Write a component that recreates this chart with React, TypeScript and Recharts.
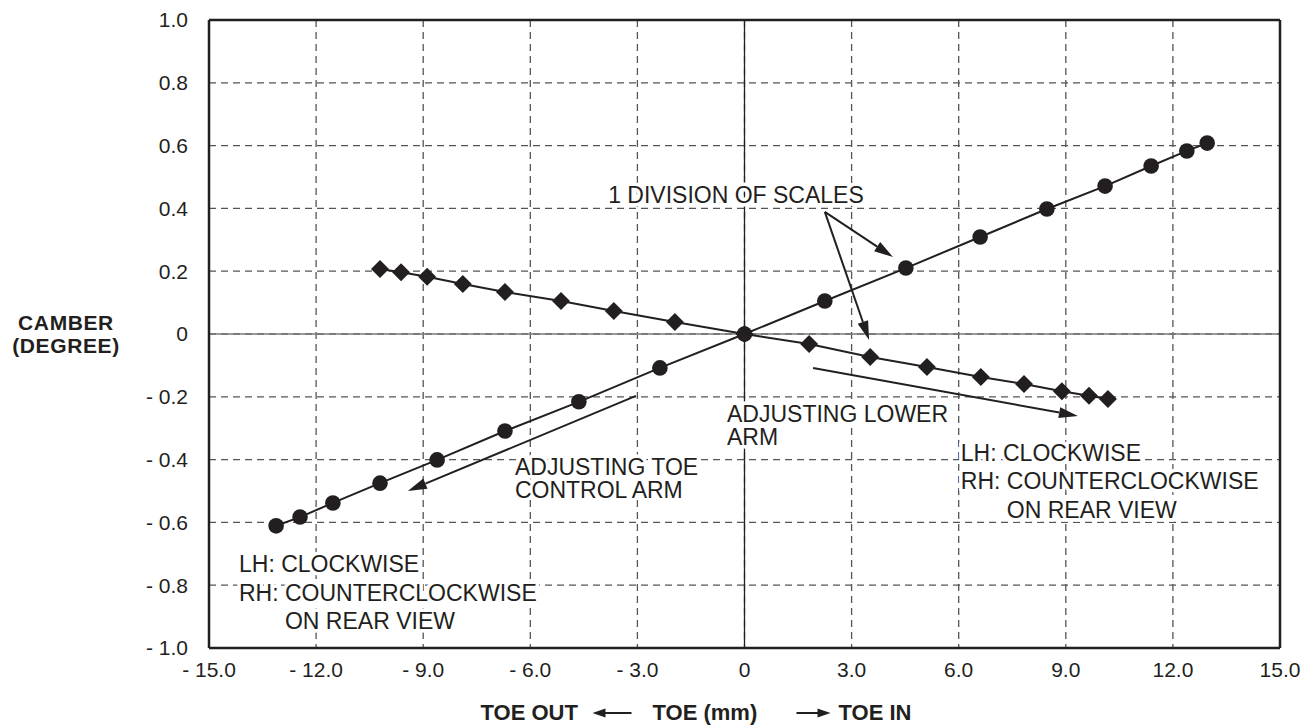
import React from 'react';
import {
  ComposedChart, Scatter, XAxis, YAxis, CartesianGrid, ReferenceLine, ReferenceDot,
} from 'recharts';

// toe control arm adjustment (circles)
const CIRCLE_X = [-13.12, -12.45, -11.53, -10.21, -8.61, -6.71, -4.64, -2.37, 0, 2.25, 4.52, 6.6, 8.47, 10.1, 11.39, 12.39, 12.96];
const CIRCLE_Y = [-0.611, -0.583, -0.538, -0.475, -0.401, -0.309, -0.216, -0.108, 0, 0.105, 0.21, 0.309, 0.398, 0.471, 0.535, 0.583, 0.608];

// lower arm adjustment (diamonds)
const DIAMOND_X = [-10.21, -9.62, -8.89, -7.89, -6.71, -5.14, -3.66, -1.95, 0, 1.81, 3.52, 5.11, 6.62, 7.83, 8.89, 9.65, 10.18];
const DIAMOND_Y = [0.207, 0.197, 0.182, 0.159, 0.134, 0.105, 0.073, 0.038, 0, -0.032, -0.073, -0.105, -0.137, -0.159, -0.182, -0.197, -0.207];

const X_TICKS = [-15, -12, -9, -6, -3, 0, 3, 6, 9, 12, 15];
const Y_TICKS = [-1, -0.8, -0.6, -0.4, -0.2, 0, 0.2, 0.4, 0.6, 0.8, 1];

// arrows, in data units
const ARROWS = [
  { from: [2.25, 0.389], to: [3.49, -0.019] },
  { from: [2.25, 0.389], to: [4.16, 0.245] },
  { from: [1.92, -0.108], to: [9.34, -0.261] },
  { from: [-3.04, -0.197], to: [-9.43, -0.5] },
];

// annotation anchors (text start, first baseline), in data units
const NOTES = [
  { x: -3.82, y: 0.417, lines: ['1 DIVISION OF SCALES'] },
  { x: -0.49, y: -0.28, lines: ['ADJUSTING LOWER', 'ARM'] },
  { x: -6.43, y: -0.449, lines: ['ADJUSTING TOE', 'CONTROL ARM'] },
  { x: -14.16, y: -0.758, lines: ['LH: CLOCKWISE', 'RH: COUNTERCLOCKWISE', 'ON REAR VIEW'] },
  { x: 6.06, y: -0.404, lines: ['LH: CLOCKWISE', 'RH: COUNTERCLOCKWISE', 'ON REAR VIEW'] },
];

const circleData = CIRCLE_X.map((x, i) => ({ x, y: CIRCLE_Y[i] }));
const diamondData = DIAMOND_X.map((x, i) => ({ x, y: DIAMOND_Y[i] }));

const INK = '#231f20';
const FONT = '"Liberation Sans", Arial, Helvetica, sans-serif';

const fmt = (v: number) => (v === 0 ? '0' : (v < 0 ? '- ' : '') + Math.abs(v).toFixed(1));

const CircleShape = (p: any) => <circle cx={p.cx} cy={p.cy} r={7.8} fill={INK} />;
const DiamondShape = (p: any) => {
  const s = 9;
  return (
    <polygon
      points={`${p.cx},${p.cy - s} ${p.cx + s},${p.cy} ${p.cx},${p.cy + s} ${p.cx - s},${p.cy}`}
      fill={INK}
    />
  );
};

const ArrowShape = (p: any) => {
  const { x1, y1, x2, y2 } = p;
  const a = Math.atan2(y2 - y1, x2 - x1);
  const L = 19;
  const W = 5.5;
  const bx = x2 - L * Math.cos(a);
  const by = y2 - L * Math.sin(a);
  const lx = bx + W * Math.sin(a);
  const ly = by - W * Math.cos(a);
  const rx = bx - W * Math.sin(a);
  const ry = by + W * Math.cos(a);
  return (
    <g>
      <line x1={x1} y1={y1} x2={bx} y2={by} stroke={INK} strokeWidth={2} />
      <polygon points={`${x2},${y2} ${lx},${ly} ${rx},${ry}`} fill={INK} />
    </g>
  );
};

const noteShape = (lines: string[]) => (p: any) => {
  const multi = lines.length === 3;
  const lh = multi ? 28.5 : 23.5;
  return (
    <text
      x={p.cx}
      y={p.cy}
      fill={INK}
      fontFamily={FONT}
      fontSize={23}
      stroke="#fff"
      strokeWidth={7}
      strokeLinejoin="round"
      paintOrder="stroke"
    >
      {lines.map((t, i) => (
        <tspan key={i} x={p.cx + (multi && i === 2 ? 46 : 0)} y={p.cy + i * lh}>{t}</tspan>
      ))}
    </text>
  );
};

const YTitle = (props: any) => {
  const vb = props.viewBox || { x: 129, y: 20, width: 80, height: 628 };
  const cx = vb.x - 63;
  const cy = vb.y + vb.height / 2;
  return (
    <text textAnchor="middle" fill={INK} fontFamily={FONT} fontSize={21} fontWeight="bold" letterSpacing={0.6}>
      <tspan x={cx} y={cy - 4}>CAMBER</tspan>
      <tspan x={cx} y={cy + 19}>(DEGREE)</tspan>
    </text>
  );
};

const XTitle = (props: any) => {
  const vb = props.viewBox || { x: 209, y: 648, width: 1071, height: 40 };
  const c = vb.x + vb.width / 2;
  const base = vb.y + 72;
  const ay = base - 7;
  const t = { fill: INK, fontFamily: FONT, fontSize: 22, fontWeight: 'bold' as const };
  return (
    <g>
      <text x={c - 264} y={base} {...t}>TOE OUT</text>
      <line x1={c - 140} y1={ay} x2={c - 113} y2={ay} stroke={INK} strokeWidth={2} />
      <polygon points={`${c - 152},${ay} ${c - 139},${ay - 4.5} ${c - 139},${ay + 4.5}`} fill={INK} />
      <text x={c - 92} y={base} {...t}>TOE (mm)</text>
      <line x1={c + 52} y1={ay} x2={c + 74} y2={ay} stroke={INK} strokeWidth={2} />
      <polygon points={`${c + 86},${ay} ${c + 73},${ay - 4.5} ${c + 73},${ay + 4.5}`} fill={INK} />
      <text x={c + 94} y={base} {...t}>TOE IN</text>
    </g>
  );
};

export default function App() {
  return (
    <div style={{ position: 'absolute', left: 0, top: 0, background: '#fff' }}>
      <ComposedChart
        width={1315}
        height={725}
        margin={{ top: 20, right: 35, bottom: 37, left: 129 }}
        style={{ fontFamily: FONT }}
      >
        <CartesianGrid stroke="#555" strokeWidth={1.3} strokeDasharray="7 5" />
        <XAxis
          type="number"
          dataKey="x"
          domain={[-15, 15]}
          ticks={X_TICKS}
          tickFormatter={fmt}
          axisLine={false}
          tickLine={false}
          tickSize={0}
          tickMargin={14}
          height={40}
          tick={{ fill: INK, fontSize: 21, fontFamily: FONT }}
          label={{ content: (p: any) => <XTitle {...p} /> }}
        />
        <YAxis
          type="number"
          dataKey="y"
          domain={[-1, 1]}
          ticks={Y_TICKS}
          tickFormatter={fmt}
          axisLine={false}
          tickLine={false}
          tickSize={0}
          tickMargin={21}
          width={80}
          tick={{ fill: INK, fontSize: 21, fontFamily: FONT }}
          label={{ content: (p: any) => <YTitle {...p} /> }}
        />
        <ReferenceLine x={0} stroke={INK} strokeWidth={1.3} />
        <ReferenceLine y={0} stroke="#7a7a7a" strokeWidth={1.6} />
        <ReferenceLine x={-15} stroke={INK} strokeWidth={2.5} />
        <ReferenceLine x={15} stroke={INK} strokeWidth={2.5} />
        <ReferenceLine y={1} stroke={INK} strokeWidth={2.5} />
        <ReferenceLine y={-1} stroke={INK} strokeWidth={2.5} />
        {NOTES.map((n, i) => (
          <ReferenceDot key={'n' + i} x={n.x} y={n.y} r={0} shape={noteShape(n.lines)} />
        ))}
        {ARROWS.map((a, i) => (
          <ReferenceLine
            key={'a' + i}
            segment={[{ x: a.from[0], y: a.from[1] }, { x: a.to[0], y: a.to[1] }]}
            shape={ArrowShape}
          />
        ))}
        <Scatter
          data={diamondData}
          dataKey="y"
          line={{ stroke: INK, strokeWidth: 2 }}
          lineType="joint"
          shape={DiamondShape}
          isAnimationActive={false}
        />
        <Scatter
          data={circleData}
          dataKey="y"
          line={{ stroke: INK, strokeWidth: 2 }}
          lineType="joint"
          shape={CircleShape}
          isAnimationActive={false}
        />
      </ComposedChart>
    </div>
  );
}
